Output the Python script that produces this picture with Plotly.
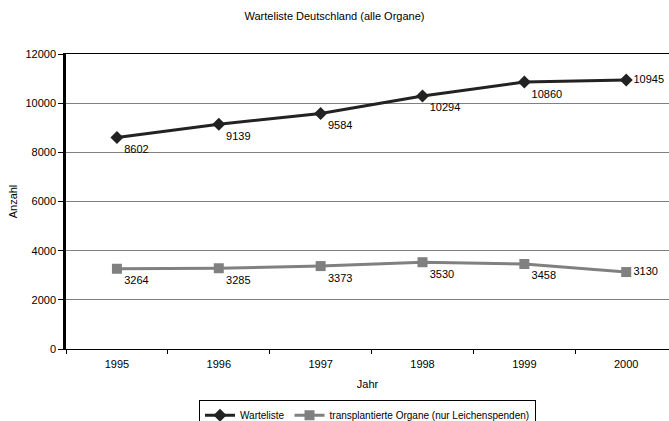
import plotly.graph_objects as go

years = ["1995", "1996", "1997", "1998", "1999", "2000"]
warteliste = [8602, 9139, 9584, 10294, 10860, 10945]
transplantiert = [3264, 3285, 3373, 3530, 3458, 3130]
y_ticks = [0, 2000, 4000, 6000, 8000, 10000, 12000]

font = "Liberation Sans, Arial, sans-serif"
pos = ["bottom right"] * 5 + ["middle right"]

fig = go.Figure()
fig.add_trace(go.Scatter(
    x=years, y=warteliste, name="Warteliste", mode="lines+markers+text",
    line=dict(color="#222222", width=3),
    marker=dict(symbol="diamond", size=10, color="#222222"),
    text=[str(v) for v in warteliste], textposition=pos,
    textfont=dict(family=font, size=11, color="#000"),
    cliponaxis=False,
))
fig.add_trace(go.Scatter(
    x=years, y=transplantiert, name="transplantierte Organe (nur Leichenspenden)",
    mode="lines+markers+text",
    line=dict(color="#808080", width=3),
    marker=dict(symbol="square", size=10, color="#808080"),
    text=[str(v) for v in transplantiert], textposition=pos,
    textfont=dict(family=font, size=11, color="#000"),
    cliponaxis=False,
))

fig.update_layout(
    width=669, height=421,
    margin=dict(l=66, r=0, t=54, b=72, autoexpand=False),
    paper_bgcolor="white", plot_bgcolor="white",
    font=dict(family=font, size=11, color="#000"),
    title=dict(text="Warteliste Deutschland (alle Organe)", x=0.5, xanchor="center",
               y=1 - 16 / 421, yanchor="middle", font=dict(size=11)),
    showlegend=True,
    legend=dict(orientation="h", x=0.5, xanchor="center", y=-0.172, yanchor="top",
                bordercolor="#000", borderwidth=1, font=dict(size=10),
                itemwidth=30, tracegroupgap=0),
    xaxis=dict(type="category", range=[-0.5, 5.42], tickson="boundaries",
               ticks="outside", ticklen=4, tickcolor="#000",
               showline=True, linecolor="#000", linewidth=1, mirror=True,
               showgrid=False, zeroline=False, automargin=False,
               ticklabelstandoff=5,
               title=dict(text="Jahr", standoff=11, font=dict(size=11))),
    yaxis=dict(range=[0, 12000], tickvals=y_ticks, ticktext=[str(v) for v in y_ticks],
               ticks="outside", ticklen=5,
               tickcolor="#000", showline=True, linecolor="#000", linewidth=2.5,
               showgrid=True, gridcolor="#808080", gridwidth=1, zeroline=False,
               automargin=False,
               title=dict(text="Anzahl", standoff=6, font=dict(size=11))),
)

fig.write_html("out.html", config={"displayModeBar": False},
               post_script="document.body.style.margin='0';")
